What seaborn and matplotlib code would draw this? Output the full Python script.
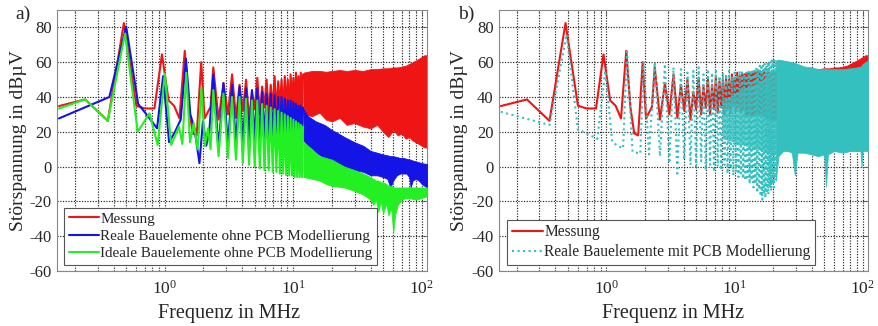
import matplotlib
matplotlib.use("Agg")
import matplotlib.pyplot as plt
import seaborn as sns
import pandas as pd
from matplotlib.ticker import LogLocator, FixedLocator, NullFormatter, LogFormatterMathtext

# ---------------- data (MHz, dBµV) ----------------
# harmonic peaks (n = 5..25) and the troughs between them
harm_f = [2.385, 2.862, 3.339, 3.816, 4.293, 4.770, 5.247, 5.724, 6.201, 6.678, 7.155,
          7.632, 8.109, 8.586, 9.063, 9.540, 10.017, 10.494, 10.971, 11.448, 11.925]
mid_f = [2.62, 3.10, 3.58, 4.05, 4.53, 5.01, 5.49, 5.96, 6.44, 6.92, 7.39, 7.87, 8.35,
         8.82, 9.30, 9.78, 10.26, 10.73, 11.21, 11.69]
# harmonic peaks n = 26..44 and troughs (used for the PCB simulation)
ext_harm_f = [12.402, 12.879, 13.356, 13.833, 14.310, 14.787, 15.264, 15.741, 16.218, 16.695,
              17.172, 17.649, 18.126, 18.603, 19.080, 19.557, 20.034, 20.511, 20.988]
ext_mid_f = [12.16, 12.64, 13.12, 13.59, 14.07, 14.55, 15.03, 15.50, 15.98, 16.46, 16.93,
             17.41, 17.89, 18.36, 18.84, 19.32, 19.80, 20.27, 20.75]

# Messung (measurement)
red_f_low = [0.15, 0.24, 0.36, 0.48, 0.60, 0.70, 0.83, 0.95, 1.07, 1.18, 1.30, 1.43,
             1.54, 1.65, 1.77, 1.92, 2.04, 2.15, 2.27]
red_db_low = [34.8, 38.6, 26.3, 82.5, 35.0, 33.4, 33.4, 64.5, 38.0, 35.0, 27.7, 66.5,
              34.0, 19.0, 18.0, 60.0, 27.7, 31.0, 34.4]
red_peak = [57, 48, 53, 47, 50, 43, 51, 46, 50, 47, 52, 49, 50, 52, 50, 53, 51, 54, 52, 54, 53]
red_trough = [27, 30, 28, 32, 27, 33, 30, 34, 30, 33, 31, 34, 30, 33, 31, 35, 32, 34, 31, 33]
red_env_f = [12, 14, 16, 18, 20, 23, 26, 30, 35, 40, 45, 50, 55, 60, 65, 70, 75, 80, 85,
             90, 95, 100, 105, 110]
red_env_hi = [54, 55, 55, 54.5, 55, 55.5, 55, 55.5, 55, 56, 56, 56.5, 56.5, 57, 57, 57.5,
              58, 59, 60, 61, 62, 63, 64, 64]
red_env_lo = [30, 29, 31, 27, 26, 28, 24, 25, 23, 22, 24, 20, 17, 21, 18, 19, 16, 17, 15,
              14, 13, 12, 11, 11]

# Reale Bauelemente ohne PCB Modellierung
blue_f_low = [0.15, 0.37, 0.50, 0.62, 0.72, 0.87, 0.97, 1.08, 1.20, 1.33, 1.46, 1.58,
              1.70, 1.86, 1.98, 2.10, 2.22]
blue_db_low = [27.7, 40.0, 80.5, 36.0, 30.0, 22.0, 52.0, 14.0, 20.0, 27.0, 62.0, 30.0,
               22.0, 2.0, 26.0, 12.0, 20.0]
blue_peak = [53, 48, 47, 46, 45, 44, 45, 43, 42, 42, 41, 40, 40, 39, 38, 38, 37, 36, 35, 35, 34]
blue_trough = [10, 12, 13, 12, 14, 15, 14, 16, 15, 17, 16, 18, 17, 19, 18, 20, 19, 20, 19, 18]
blue_env_f = [12, 13, 15, 17.5, 20, 22.5, 25, 30, 35, 40, 45, 50, 54, 57, 60, 64, 68, 72,
              76, 80, 82, 85, 90, 95, 100, 110]
blue_env_hi = [33, 29, 26, 24, 21, 19, 17, 14, 12, 9, 8, 7, 6.5, 6, 6, 5.5, 5, 5, 4.5, 4,
               4, 3.5, 3, 2.5, 2, 1.5]
blue_env_lo = [15, 12, 8, 5, 2, 0, -1, -2, -3, -5, -5, -6, -7, -12, -8, -5, -4, -4, -4,
               -6, -12, -8, -7, -8, -10, -12]

# Ideale Bauelemente ohne PCB Modellierung
green_f_low = [0.15, 0.24, 0.36, 0.49, 0.615, 0.76, 0.88, 1.00, 1.12, 1.29, 1.37, 1.47,
               1.57, 1.68, 1.80, 1.93, 2.05, 2.17, 2.27]
green_db_low = [33.4, 38.6, 26.3, 76.4, 20.0, 30.6, 12.4, 53.5, 12.4, 23.0, 13.0, 54.0,
                14.0, 25.0, 10.0, 45.0, 12.0, 22.0, 10.0]
green_peak = [44, 42, 40, 40, 39, 38, 38, 36, 35, 34, 33, 32, 31, 30, 29, 28, 27, 26, 25, 24, 23]
green_trough = [6, 5, 4, 2, 1, 0, -1, -2, -2, -3, -3, -4, -4, -5, -5, -5, -6, -6, -6, -6]
green_env_f = [12, 14, 16, 18, 20, 25, 30, 35, 40, 42, 44, 46, 48, 50, 53, 55, 58, 60, 62,
               65, 70, 75, 80, 90, 100, 110]
green_env_hi = [14, 10, 6, 5, 4, 0, -2, -4, -6, -7, -8, -8, -9, -9, -10, -11, -11, -12,
                -12, -12, -12, -12, -12, -12, -12, -12]
green_env_lo = [-6, -7, -8, -10, -11, -12, -14, -16, -19, -22, -19, -26, -20, -27, -21,
                -28, -24, -38, -28, -22, -19, -18, -18, -19, -18, -17]

# Reale Bauelemente mit PCB Modellierung
cyan_f_low = [0.15, 0.36, 0.49, 0.60, 0.66, 0.85, 0.98, 1.11, 1.22, 1.35, 1.45, 1.60,
              1.72, 1.84, 1.95, 2.15]
cyan_db_low = [31.5, 23.9, 76.0, 21.0, 20.0, 16.0, 55.0, 14.3, 12.0, 10.5, 66.0, 8.6,
               8.0, 7.5, 60.0, 7.0]
cyan_peak = [60, 59, 57, 56, 54, 55, 57, 53, 56, 54, 55, 52, 54, 53, 55, 52, 54, 53, 55, 54, 53]
cyan_trough = [6, 2, -4, 4, 1, 0, 3, -2, 1, -3, 0, -2, 1, -4, -1, -5, -3, -6, -4, -7]
cyan_ext_peak = [54, 55, 54, 56, 55, 57, 56, 58, 57, 58, 59, 58, 60, 59, 60, 61, 60, 61, 61]
cyan_ext_trough = [-8, -6, -10, -8, -12, -10, -15, -13, -17, -19, -16, -18, -14, -16, -12,
                   -14, -10, -12, -8]
# densely hatched core of the PCB simulation between 8 and 21 MHz
cyan_core_f = [8.0, 9.0, 10.0, 11.0, 12.0, 13.5, 15.0, 16.5, 18.0, 19.5, 21.0]
cyan_core_hi = [38, 40, 42, 44, 45, 47, 48, 50, 52, 54, 56]
cyan_core_lo = [16, 15, 14, 13, 12, 11, 10, 9, 9, 8, 8]
cyan_env_f = [21.0, 22, 24, 26, 28, 29.5, 31, 35, 40, 45, 50, 51.7, 53.5, 60, 70, 80, 90,
              96, 98, 100, 110]
cyan_env_hi = [61, 61.5, 61, 60.5, 60, 59.5, 59, 57.5, 57, 56, 56, 56, 56, 56, 56, 56.5,
               57, 57.5, 58, 59, 61]
cyan_env_lo = [-8, 6, 9, 9, 8, -5, 8, 8, 7, 6, 7, -11.5, 7, 9, 8, 9, 9, 9, 0, 9, 9]

labels_a = ["Messung", "Reale Bauelemente ohne PCB Modellierung",
            "Ideale Bauelemente ohne PCB Modellierung"]
labels_b = ["Messung", "Reale Bauelemente mit PCB Modellierung"]

C_RED, C_BLUE, C_GREEN, C_CYAN = "#f01515", "#1414e6", "#22f022", "#35c0c0"


def trace(parts):
    pairs = []
    for f, v in parts:
        pairs += list(zip(f, v))
    pairs.sort(key=lambda p: p[0])
    return pd.DataFrame({"f": [p[0] for p in pairs], "dB": [p[1] for p in pairs]})


red_df = trace([(red_f_low, red_db_low), (harm_f, red_peak), (mid_f, red_trough)])
blue_df = trace([(blue_f_low, blue_db_low), (harm_f, blue_peak), (mid_f, blue_trough)])
green_df = trace([(green_f_low, green_db_low), (harm_f, green_peak), (mid_f, green_trough)])
cyan_df = trace([(cyan_f_low, cyan_db_low), (harm_f, cyan_peak), (mid_f, cyan_trough),
                 (ext_harm_f, cyan_ext_peak), (ext_mid_f, cyan_ext_trough)])

# ---------------- style ----------------
sns.set_theme(style="white")
plt.rcParams["font.family"] = "serif"
plt.rcParams["font.serif"] = ["Liberation Serif"]
plt.rcParams["mathtext.fontset"] = "stix"
plt.rcParams["axes.unicode_minus"] = False

fig = plt.figure(figsize=(8.79, 3.26), dpi=100)
ax1 = fig.add_axes([0.0654, 0.1687, 0.4204, 0.8006])
ax2 = fig.add_axes([0.5680, 0.1687, 0.4195, 0.8006])

LW = 1.5


def draw(ax, df, env_f, env_lo, env_hi, color, label, z, ls="-"):
    sns.lineplot(data=df, x="f", y="dB", ax=ax, color=color, linewidth=LW, linestyle=ls,
                 label=label, estimator=None, sort=False, zorder=z)
    ax.fill_between(env_f, env_lo, env_hi, color=color, linewidth=0.6, zorder=z)


for ax in (ax1, ax2):
    ax.set_xscale("log")

draw(ax1, red_df, red_env_f, red_env_lo, red_env_hi, C_RED, labels_a[0], 2)
draw(ax1, blue_df, blue_env_f, blue_env_lo, blue_env_hi, C_BLUE, labels_a[1], 3)
draw(ax1, green_df, green_env_f, green_env_lo, green_env_hi, C_GREEN, labels_a[2], 4)

draw(ax2, red_df, red_env_f, red_env_lo, red_env_hi, C_RED, labels_b[0], 2)
draw(ax2, cyan_df, cyan_env_f, cyan_env_lo, cyan_env_hi, C_CYAN, labels_b[1], 3, ls=":")
ax2.fill_between(cyan_core_f, cyan_core_lo, cyan_core_hi, color=C_CYAN, alpha=0.75,
                 linewidth=0, zorder=3)

grid_kw = dict(color="#222222", linestyle=(0, (1, 1.3)), linewidth=0.85)
for ax in (ax1, ax2):
    ax.set_xlim(0.146, 110)
    ax.set_ylim(-60, 90)
    ax.xaxis.set_major_locator(LogLocator(base=10, numticks=10))
    ax.xaxis.set_minor_locator(LogLocator(base=10, subs=[2, 3, 4, 5, 6, 7, 8, 9], numticks=20))
    ax.xaxis.set_major_formatter(LogFormatterMathtext())
    ax.xaxis.set_minor_formatter(NullFormatter())
    ax.yaxis.set_major_locator(FixedLocator([-60, -40, -20, 0, 20, 40, 60, 80]))
    ax.set_axisbelow(True)
    ax.grid(True, which="major", axis="both", **grid_kw)
    ax.grid(True, which="minor", axis="x", **grid_kw)
    ax.tick_params(which="both", direction="in", top=True, right=True, color="#555555",
                   width=0.6)
    ax.tick_params(which="major", length=4)
    ax.tick_params(which="minor", length=2)
    ax.tick_params(axis="x", which="major", pad=6, labelsize=12.5)
    ax.tick_params(axis="y", which="major", pad=4, labelsize=12)
    for sp in ax.spines.values():
        sp.set_color("#888888")
        sp.set_linewidth(0.8)
    ax.set_xlabel("Frequenz in MHz", fontsize=14.5)
    ax.set_ylabel("Störspannung in dBµV", fontsize=14)

ax1.xaxis.set_label_coords(0.4655, -0.125)
ax2.xaxis.set_label_coords(0.472, -0.125)
ax1.yaxis.set_label_coords(-0.083, 0.5)
ax2.yaxis.set_label_coords(-0.085, 0.5)

leg_kw = dict(loc="lower left", handlelength=2.0, handletextpad=0.1,
              borderaxespad=0.0, labelspacing=0.25, borderpad=0.3, fancybox=False,
              framealpha=1.0, edgecolor="#555555")
lg1 = ax1.legend(bbox_to_anchor=(0.0176, 0.023), fontsize=10.9, **leg_kw)
lg2 = ax2.legend(bbox_to_anchor=(0.021, 0.023), fontsize=11.2, **leg_kw)
for lg in (lg1, lg2):
    lg.get_frame().set_linewidth(0.8)
    lg.set_zorder(10)

fig.text(15 / 879, 1 - 14 / 326, "a)", fontsize=14, va="center", ha="left")
fig.text(458 / 879, 1 - 14 / 326, "b)", fontsize=14, va="center", ha="left")

fig.savefig("out.png", dpi=100)
